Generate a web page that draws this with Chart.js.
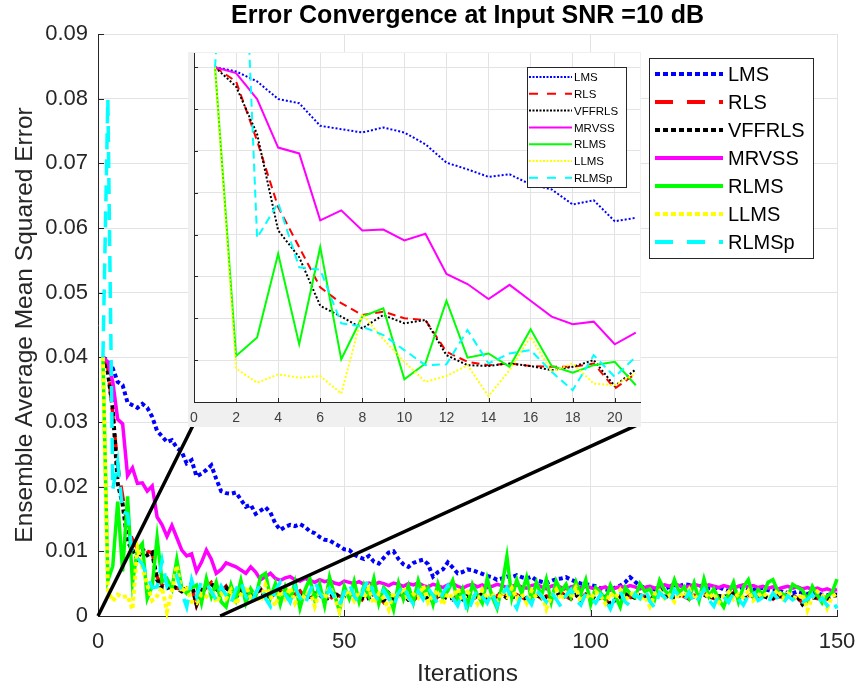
<!DOCTYPE html>
<html>
<head>
<meta charset="utf-8">
<script src="https://cdn.jsdelivr.net/npm/chart.js@4.4.1/dist/chart.umd.min.js"></script>
<style>
  html, body { margin: 0; padding: 0; background: #fff; }
  #wrap { position: relative; width: 859px; height: 689px; }
  #mainChart { position: absolute; left: 0; top: 0; }
  #insetChart { position: absolute; left: 188px; top: 52px; background: #f0f0f0; }
</style>
</head>
<body>
<div id="wrap">
  <canvas id="mainChart" width="859" height="689"></canvas>
  <canvas id="insetChart" width="453" height="375"></canvas>
</div>
<script>
// iterations 1..150
const iterations = Array.from({ length: 150 }, (_, i) => i + 1);

const lmsValues = [
  0.0400, 0.0395, 0.0383, 0.0362, 0.0357, 0.0330, 0.0326, 0.0322, 0.0328, 0.0322,
  0.0308, 0.0286, 0.0278, 0.0269, 0.0272, 0.0260, 0.0254, 0.0236, 0.0241, 0.0216, 0.0220,
  0.0226, 0.0233, 0.0212, 0.0193, 0.0190, 0.0189, 0.0191, 0.0180, 0.0169, 0.0172,
  0.0158, 0.0163, 0.0168, 0.0160, 0.0143, 0.0133, 0.0138, 0.0141, 0.0139, 0.0142,
  0.0138, 0.0131, 0.0128, 0.0122, 0.0118, 0.0117, 0.0112, 0.0108, 0.0103, 0.0102,
  0.0095, 0.0091, 0.0088, 0.0093, 0.0084, 0.0081, 0.0090, 0.0098, 0.0100, 0.0088,
  0.0080, 0.0076, 0.0082, 0.0085, 0.0087, 0.0080, 0.0061, 0.0068, 0.0072, 0.0083,
  0.0075, 0.0066, 0.0068, 0.0072, 0.0071, 0.0068, 0.0065, 0.0062, 0.0060, 0.0056,
  0.0058, 0.0061, 0.0060, 0.0063, 0.0060, 0.0058, 0.0061, 0.0055, 0.0053, 0.0051,
  0.0054, 0.0057, 0.0058, 0.0060, 0.0056, 0.0053, 0.0050, 0.0049, 0.0048, 0.0046,
  0.0043, 0.0041, 0.0040, 0.0044, 0.0047, 0.0052, 0.0060, 0.0053, 0.0047, 0.0043,
  0.0045, 0.0041, 0.0040, 0.0042, 0.0045, 0.0048, 0.0046, 0.0049, 0.0048, 0.0045,
  0.0047, 0.0046, 0.0043, 0.0042, 0.0045, 0.0041, 0.0039, 0.0040, 0.0043, 0.0045,
  0.0042, 0.0040, 0.0044, 0.0043, 0.0040, 0.0038, 0.0041, 0.0037, 0.0036, 0.0035,
  0.0038, 0.0036, 0.0034, 0.0037, 0.0035, 0.0033, 0.0032, 0.0034, 0.0033
];

const rlsValues = [
  0.0400, 0.0383, 0.0312, 0.0233, 0.0185, 0.0137, 0.0118, 0.0104, 0.0108, 0.0100,
  0.0098, 0.0060, 0.0048, 0.0044, 0.0046, 0.0043, 0.0042, 0.0042, 0.0046, 0.0016, 0.0034,
  0.0045, 0.0052, 0.0040, 0.0038, 0.0046, 0.0033, 0.0030, 0.0041, 0.0036, 0.0028,
  0.0034, 0.0042, 0.0031, 0.0027, 0.0036, 0.0040, 0.0032, 0.0025, 0.0034, 0.0039,
  0.0030, 0.0026, 0.0033, 0.0037, 0.0029, 0.0024, 0.0035, 0.0031, 0.0027, 0.0036,
  0.0032, 0.0028, 0.0023, 0.0030, 0.0034, 0.0029, 0.0021, 0.0033, 0.0028, 0.0031,
  0.0036, 0.0027, 0.0024, 0.0031, 0.0035, 0.0028, 0.0022, 0.0030, 0.0034, 0.0029,
  0.0025, 0.0032, 0.0028, 0.0033, 0.0026, 0.0030, 0.0035, 0.0029, 0.0024, 0.0031,
  0.0036, 0.0030, 0.0026, 0.0033, 0.0029, 0.0025, 0.0032, 0.0034, 0.0027, 0.0031,
  0.0028, 0.0033, 0.0037, 0.0030, 0.0026, 0.0031, 0.0027, 0.0034, 0.0029, 0.0024,
  0.0030, 0.0027, 0.0014, 0.0022, 0.0031, 0.0035, 0.0029, 0.0026, 0.0033, 0.0030,
  0.0025, 0.0031, 0.0036, 0.0028, 0.0032, 0.0027, 0.0034, 0.0030, 0.0026, 0.0032,
  0.0029, 0.0035, 0.0031, 0.0027, 0.0033, 0.0028, 0.0032, 0.0036, 0.0029, 0.0025,
  0.0031, 0.0034, 0.0028, 0.0033, 0.0030, 0.0026, 0.0032, 0.0029, 0.0027, 0.0031,
  0.0028, 0.0020, 0.0024, 0.0030, 0.0027, 0.0031, 0.0026, 0.0029, 0.0034
];

const vffrlsValues = [
  0.0400, 0.0377, 0.0320, 0.0205, 0.0173, 0.0115, 0.0102, 0.0088, 0.0104, 0.0094,
  0.0098, 0.0056, 0.0044, 0.0043, 0.0046, 0.0043, 0.0038, 0.0042, 0.0050, 0.0019, 0.0039,
  0.0048, 0.0050, 0.0042, 0.0035, 0.0044, 0.0036, 0.0029, 0.0039, 0.0034, 0.0030,
  0.0037, 0.0040, 0.0029, 0.0031, 0.0038, 0.0036, 0.0028, 0.0027, 0.0035, 0.0037,
  0.0028, 0.0030, 0.0035, 0.0033, 0.0026, 0.0028, 0.0036, 0.0029, 0.0030, 0.0034,
  0.0029, 0.0031, 0.0026, 0.0028, 0.0036, 0.0027, 0.0024, 0.0035, 0.0026, 0.0033,
  0.0034, 0.0025, 0.0027, 0.0033, 0.0032, 0.0026, 0.0025, 0.0032, 0.0031, 0.0027,
  0.0028, 0.0034, 0.0026, 0.0031, 0.0029, 0.0032, 0.0033, 0.0027, 0.0027, 0.0033,
  0.0034, 0.0028, 0.0029, 0.0031, 0.0027, 0.0028, 0.0034, 0.0032, 0.0029, 0.0029,
  0.0030, 0.0031, 0.0035, 0.0028, 0.0029, 0.0033, 0.0025, 0.0032, 0.0031, 0.0026,
  0.0028, 0.0030, 0.0018, 0.0025, 0.0029, 0.0033, 0.0031, 0.0028, 0.0031, 0.0032,
  0.0027, 0.0029, 0.0034, 0.0030, 0.0030, 0.0029, 0.0032, 0.0032, 0.0028, 0.0030,
  0.0031, 0.0033, 0.0029, 0.0029, 0.0031, 0.0030, 0.0030, 0.0034, 0.0031, 0.0027,
  0.0029, 0.0032, 0.0030, 0.0031, 0.0028, 0.0028, 0.0030, 0.0031, 0.0029, 0.0029,
  0.0030, 0.0018, 0.0026, 0.0028, 0.0029, 0.0029, 0.0028, 0.0031, 0.0032
];

const mrvssValues = [
  0.0400, 0.0393, 0.0362, 0.0304, 0.0297, 0.0217, 0.0229, 0.0205, 0.0206, 0.0193,
  0.0201, 0.0153, 0.0141, 0.0123, 0.0140, 0.0121, 0.0102, 0.0093, 0.0096, 0.0069, 0.0083,
  0.0102, 0.0088, 0.0066, 0.0072, 0.0082, 0.0079, 0.0076, 0.0071, 0.0066, 0.0076,
  0.0068, 0.0056, 0.0061, 0.0066, 0.0058, 0.0055, 0.0059, 0.0061, 0.0056, 0.0054,
  0.0058, 0.0055, 0.0052, 0.0056, 0.0053, 0.0055, 0.0051, 0.0049, 0.0054, 0.0052,
  0.0050, 0.0053, 0.0049, 0.0051, 0.0048, 0.0052, 0.0050, 0.0047, 0.0051, 0.0049,
  0.0046, 0.0050, 0.0048, 0.0051, 0.0047, 0.0045, 0.0049, 0.0047, 0.0044, 0.0048,
  0.0050, 0.0046, 0.0043, 0.0047, 0.0049, 0.0045, 0.0048, 0.0044, 0.0046, 0.0049,
  0.0047, 0.0044, 0.0046, 0.0048, 0.0045, 0.0043, 0.0047, 0.0049, 0.0045, 0.0042,
  0.0046, 0.0048, 0.0044, 0.0041, 0.0045, 0.0047, 0.0043, 0.0046, 0.0044, 0.0041,
  0.0043, 0.0045, 0.0040, 0.0043, 0.0046, 0.0044, 0.0047, 0.0045, 0.0042, 0.0044,
  0.0046, 0.0043, 0.0045, 0.0048, 0.0046, 0.0050, 0.0047, 0.0044, 0.0046, 0.0049,
  0.0047, 0.0045, 0.0048, 0.0046, 0.0044, 0.0047, 0.0045, 0.0043, 0.0046, 0.0048,
  0.0045, 0.0047, 0.0044, 0.0046, 0.0043, 0.0045, 0.0042, 0.0044, 0.0046, 0.0043,
  0.0045, 0.0042, 0.0044, 0.0041, 0.0043, 0.0040, 0.0042, 0.0039, 0.0041
];

const rlmsValues = [
  0.0400, 0.0055, 0.0077, 0.0177, 0.0069, 0.0185, 0.0051, 0.0102, 0.0112, 0.0027,
  0.0046, 0.0121, 0.0053, 0.0058, 0.0042, 0.0087, 0.0043, 0.0035, 0.0044, 0.0048, 0.0020,
  0.0058, 0.0030, 0.0052, 0.0022, 0.0014, 0.0048, 0.0025, 0.0055, 0.0020, 0.0042,
  0.0030, 0.0061, 0.0066, 0.0028, 0.0050, 0.0018, 0.0045, 0.0024, 0.0052, 0.0012,
  0.0040, 0.0058, 0.0025, 0.0049, 0.0016, 0.0060, 0.0033, 0.0008, 0.0046, 0.0027,
  0.0054, 0.0022, 0.0048, 0.0030, 0.0058, 0.0019, 0.0044, 0.0035, 0.0010, 0.0051,
  0.0026, 0.0047, 0.0021, 0.0055, 0.0032, 0.0044, 0.0018, 0.0050, 0.0028, 0.0039,
  0.0055, 0.0024, 0.0042, 0.0015, 0.0049, 0.0033, 0.0020, 0.0058, 0.0030, 0.0012,
  0.0046, 0.0092, 0.0028, 0.0056, 0.0035, 0.0060, 0.0025, 0.0052, 0.0031, 0.0057,
  0.0022, 0.0054, 0.0038, 0.0049, 0.0029, 0.0053, 0.0034, 0.0056, 0.0018, 0.0044,
  0.0036, 0.0025, 0.0048, 0.0031, 0.0014, 0.0044, 0.0035, 0.0029, 0.0050, 0.0038,
  0.0042, 0.0026, 0.0055, 0.0040, 0.0032, 0.0056, 0.0036, 0.0045, 0.0028, 0.0051,
  0.0024, 0.0057, 0.0030, 0.0042, 0.0026, 0.0014, 0.0035, 0.0052, 0.0022, 0.0045,
  0.0056, 0.0030, 0.0041, 0.0033, 0.0052, 0.0056, 0.0038, 0.0034, 0.0030, 0.0049,
  0.0044, 0.0040, 0.0025, 0.0046, 0.0033, 0.0020, 0.0031, 0.0036, 0.0057
];

const llmsValues = [
  0.0400, 0.0040, 0.0023, 0.0033, 0.0029, 0.0031, 0.0010, 0.0105, 0.0075, 0.0048,
  0.0024, 0.0031, 0.0044, 0.0007, 0.0038, 0.0078, 0.0036, 0.0046, 0.0022, 0.0020, 0.0034,
  0.0030, 0.0042, 0.0021, 0.0035, 0.0027, 0.0040, 0.0018, 0.0033, 0.0046, 0.0029,
  0.0036, 0.0022, 0.0048, 0.0031, 0.0016, 0.0039, 0.0027, 0.0044, 0.0020, 0.0034,
  0.0028, 0.0041, 0.0015, 0.0037, 0.0026, 0.0045, 0.0030, 0.0008, 0.0033, 0.0040,
  0.0024, 0.0038, 0.0029, 0.0043, 0.0019, 0.0035, 0.0027, 0.0010, 0.0036, 0.0031,
  0.0044, 0.0023, 0.0034, 0.0028, 0.0047, 0.0021, 0.0032, 0.0039, 0.0017, 0.0035,
  0.0029, 0.0042, 0.0024, 0.0037, 0.0031, 0.0019, 0.0040, 0.0026, 0.0035, 0.0022,
  0.0038, 0.0030, 0.0043, 0.0027, 0.0034, 0.0020, 0.0039, 0.0028, 0.0036, 0.0011,
  0.0030, 0.0041, 0.0025, 0.0036, 0.0029, 0.0044, 0.0022, 0.0033, 0.0027, 0.0038,
  0.0031, 0.0019, 0.0035, 0.0028, 0.0040, 0.0024, 0.0033, 0.0037, 0.0026, 0.0030,
  0.0015, 0.0034, 0.0039, 0.0027, 0.0032, 0.0022, 0.0036, 0.0029, 0.0041, 0.0025,
  0.0033, 0.0038, 0.0028, 0.0035, 0.0021, 0.0030, 0.0037, 0.0026, 0.0034, 0.0029,
  0.0039, 0.0024, 0.0031, 0.0036, 0.0028, 0.0033, 0.0040, 0.0027, 0.0035, 0.0030,
  0.0026, 0.0034, 0.0009, 0.0029, 0.0038, 0.0032, 0.0012, 0.0030, 0.0035
];

const rlmspValues = [
  0.0400, 0.0800, 0.0196, 0.0238, 0.0161, 0.0158, 0.0094, 0.0090, 0.0080, 0.0062,
  0.0044, 0.0045, 0.0086, 0.0046, 0.0058, 0.0062, 0.0036, 0.0014, 0.0056, 0.0030, 0.0054,
  0.0050, 0.0038, 0.0025, 0.0046, 0.0032, 0.0020, 0.0041, 0.0054, 0.0030, 0.0018,
  0.0036, 0.0048, 0.0027, 0.0015, 0.0040, 0.0052, 0.0033, 0.0022, 0.0045, 0.0028,
  0.0017, 0.0038, 0.0055, 0.0035, 0.0024, 0.0042, 0.0029, 0.0016, 0.0037, 0.0050,
  0.0031, 0.0020, 0.0044, 0.0057, 0.0034, 0.0023, 0.0040, 0.0027, 0.0015, 0.0036,
  0.0048, 0.0030, 0.0019, 0.0039, 0.0026, 0.0043, 0.0032, 0.0018, 0.0035, 0.0047,
  0.0028, 0.0016, 0.0037, 0.0005, 0.0024, 0.0041, 0.0030, 0.0020, 0.0038, 0.0015,
  0.0033, 0.0044, 0.0025, 0.0012, 0.0036, 0.0029, 0.0018, 0.0040, 0.0031, 0.0022,
  0.0037, 0.0026, 0.0014, 0.0032, 0.0041, 0.0024, 0.0017, 0.0035, 0.0028, 0.0020,
  0.0033, 0.0025, 0.0011, 0.0030, 0.0038, 0.0022, 0.0016, 0.0034, 0.0027, 0.0042,
  0.0023, 0.0013, 0.0036, 0.0029, 0.0019, 0.0040, 0.0031, 0.0024, 0.0037, 0.0018,
  0.0028, 0.0041, 0.0025, 0.0015, 0.0034, 0.0030, 0.0021, 0.0036, 0.0026, 0.0017,
  0.0032, 0.0039, 0.0024, 0.0029, 0.0020, 0.0035, 0.0027, 0.0018, 0.0031, 0.0025,
  0.0030, 0.0022, 0.0026, 0.0033, 0.0019, 0.0028, 0.0016, 0.0024, 0.0012
];

const seriesNames = ['LMS', 'RLS', 'VFFRLS', 'MRVSS', 'RLMS', 'LLMS', 'RLMSp'];
const seriesValues = [lmsValues, rlsValues, vffrlsValues, mrvssValues, rlmsValues, llmsValues, rlmspValues];
const seriesColors = ['#0000ff', '#ff0000', '#000000', '#ff00ff', '#00ff00', '#ffff00', '#00ffff'];
const seriesKinds = ['dot', 'dash', 'dot', 'solid', 'solid', 'dot', 'dash'];

const mainYTicks = [0, 0.01, 0.02, 0.03, 0.04, 0.05, 0.06, 0.07, 0.08, 0.09];
const mainXTicks = [0, 50, 100, 150];
const insetXTicks = [0, 2, 4, 6, 8, 10, 12, 14, 16, 18, 20];
const insetYTicks = [0, 0.005, 0.01, 0.015, 0.02, 0.025, 0.03, 0.035, 0.04];
const insetCount = 21;

// zoom connector lines: from main plot (iteration, mse) to inset corners
const connectorFrom = [[0, 0], [24.8, 0]];
const connectorTo = [[19.3, 0.0295], [109.6, 0.0296]];

const FONT = '"Liberation Sans", Arial, Helvetica, sans-serif';
const AXIS = '#262626';
const GRID = '#e3e3e3';

const mainDash = { dot: [4, 3], dash: [16, 10], solid: [] };
const insetDash = { dot: [2, 2], dash: [8, 5], solid: [] };

function makeDatasets(count, widths, dashes, clip) {
  return seriesNames.map((name, i) => ({
    label: name,
    data: seriesValues[i].slice(0, count).map((v, j) => ({ x: iterations[j], y: v })),
    borderColor: seriesColors[i],
    borderWidth: seriesKinds[i] === 'dot' ? widths.dot : widths.line,
    borderDash: dashes[seriesKinds[i]],
    borderCapStyle: 'butt',
    pointRadius: 0,
    tension: 0,
    fill: false,
    clip: clip,
    order: seriesNames.length - i
  }));
}

function drawLegend(ctx, box, rowY0, rowStep, lineX0, lineX1, textX, font, width, dashes) {
  ctx.save();
  ctx.fillStyle = '#fff';
  ctx.fillRect(box[0], box[1], box[2] - box[0], box[3] - box[1]);
  ctx.strokeStyle = AXIS;
  ctx.lineWidth = 1;
  ctx.setLineDash([]);
  ctx.strokeRect(box[0] + 0.5, box[1] + 0.5, box[2] - box[0], box[3] - box[1]);
  ctx.font = font;
  ctx.textBaseline = 'middle';
  ctx.textAlign = 'left';
  seriesNames.forEach((name, i) => {
    const y = rowY0 + i * rowStep;
    ctx.strokeStyle = seriesColors[i];
    ctx.lineWidth = width;
    ctx.lineCap = 'butt';
    ctx.setLineDash(dashes[seriesKinds[i]]);
    ctx.beginPath();
    ctx.moveTo(lineX0, y);
    ctx.lineTo(lineX1, y);
    ctx.stroke();
    ctx.setLineDash([]);
    ctx.fillStyle = '#000';
    ctx.fillText(name, textX, y + 1);
  });
  ctx.restore();
}

const innerTicks = {
  id: 'innerTicks',
  beforeDatasetsDraw(chart, args, opts) {
    const { ctx, chartArea: a, scales: { x, y } } = chart;
    ctx.save();
    ctx.strokeStyle = AXIS;
    ctx.lineWidth = 1;
    ctx.beginPath();
    y.ticks.forEach(t => {
      const py = Math.round(y.getPixelForValue(t.value)) + 0.5;
      ctx.moveTo(a.left, py);
      ctx.lineTo(a.left + opts.len, py);
    });
    x.ticks.forEach(t => {
      const px = Math.round(x.getPixelForValue(t.value)) + 0.5;
      ctx.moveTo(px, a.bottom);
      ctx.lineTo(px, a.bottom - opts.len);
    });
    ctx.stroke();
    ctx.restore();
  }
};

const mainDecor = {
  id: 'mainDecor',
  afterDatasetsDraw(chart) {
    const { ctx, scales: { x, y } } = chart;
    ctx.save();
    ctx.strokeStyle = '#000';
    ctx.lineWidth = 3.5;
    ctx.setLineDash([]);
    connectorFrom.forEach((p, i) => {
      const q = connectorTo[i];
      ctx.beginPath();
      ctx.moveTo(x.getPixelForValue(p[0]), y.getPixelForValue(p[1]));
      ctx.lineTo(x.getPixelForValue(q[0]), y.getPixelForValue(q[1]));
      ctx.stroke();
    });
    ctx.restore();
  },
  afterDraw(chart) {
    const { ctx, chartArea: a } = chart;
    const cx = (a.left + a.right) / 2;
    ctx.save();
    ctx.fillStyle = '#000';
    ctx.font = 'bold 25px ' + FONT;
    ctx.textAlign = 'center';
    ctx.textBaseline = 'alphabetic';
    ctx.fillText('Error Convergence at Input SNR =10 dB', cx, 23);
    ctx.fillStyle = AXIS;
    ctx.font = '24.5px ' + FONT;
    ctx.fillText('Iterations', cx, 681);
    ctx.translate(32, (a.top + a.bottom) / 2);
    ctx.rotate(-Math.PI / 2);
    ctx.fillText('Ensemble Average Mean Squared Error', 0, 0);
    ctx.restore();
    drawLegend(ctx, [649, 58, 813, 258], 74, 28, 655, 723, 728, '20px ' + FONT, 4, { dot: [5, 3], dash: [18, 14], solid: [] });
  }
};

const insetDecor = {
  id: 'insetDecor',
  beforeDraw(chart) {
    const { ctx, chartArea: a } = chart;
    ctx.save();
    ctx.fillStyle = '#fff';
    ctx.fillRect(a.left, a.top, a.right - a.left, a.bottom - a.top);
    ctx.restore();
  },
  afterDraw(chart) {
    drawLegend(chart.ctx, [339, 15, 438, 135], 25, 16.8, 341, 384, 386, '11.5px ' + FONT, 2, { dot: [2, 1.5], dash: [9, 9], solid: [] });
  }
};

new Chart(document.getElementById('mainChart'), {
  type: 'line',
  data: { datasets: makeDatasets(150, { line: 3.5, dot: 4 }, mainDash, 3) },
  options: {
    responsive: false,
    animation: false,
    devicePixelRatio: 1,
    events: [],
    layout: { padding: { top: 34, right: 22, left: 0, bottom: 0 } },
    plugins: { legend: { display: false }, tooltip: { enabled: false }, innerTicks: { len: 6 } },
    scales: {
      x: {
        type: 'linear', min: 0, max: 150,
        afterBuildTicks: s => { s.ticks = mainXTicks.map(v => ({ value: v })); },
        afterFit: s => { s.height = 73; s.paddingLeft = 0; s.paddingRight = 0; },
        grid: { color: GRID, drawTicks: false },
        border: { color: AXIS, width: 1 },
        ticks: { padding: 13, color: AXIS, font: { family: FONT, size: 22 }, maxRotation: 0 }
      },
      y: {
        type: 'linear', min: 0, max: 0.09,
        afterBuildTicks: s => { s.ticks = mainYTicks.map(v => ({ value: v })); },
        afterFit: s => { s.width = 98; s.paddingTop = 0; s.paddingBottom = 0; },
        grid: { color: GRID, drawTicks: false },
        border: { color: AXIS, width: 1 },
        ticks: {
          padding: 10, color: AXIS, font: { family: FONT, size: 22 },
          callback: v => (v === 0 ? '0' : v.toFixed(2))
        }
      }
    }
  },
  plugins: [innerTicks, mainDecor]
});

new Chart(document.getElementById('insetChart'), {
  type: 'line',
  data: { datasets: makeDatasets(insetCount, { line: 2, dot: 2 }, insetDash, 0) },
  options: {
    responsive: false,
    animation: false,
    devicePixelRatio: 1,
    events: [],
    layout: { padding: { top: 1, right: 1, left: 0, bottom: 0 } },
    plugins: { legend: { display: false }, tooltip: { enabled: false }, innerTicks: { len: 4 } },
    scales: {
      x: {
        type: 'linear', min: 0, max: 21.2,
        afterBuildTicks: s => { s.ticks = insetXTicks.map(v => ({ value: v })); },
        afterFit: s => { s.height = 25; s.paddingLeft = 0; s.paddingRight = 0; },
        grid: { color: GRID, drawTicks: false },
        border: { color: AXIS, width: 1 },
        ticks: { padding: 8, color: '#404040', font: { family: FONT, size: 14 }, maxRotation: 0, autoSkip: false }
      },
      y: {
        type: 'linear', min: 0, max: 0.0417,
        afterBuildTicks: s => { s.ticks = insetYTicks.map(v => ({ value: v })); },
        afterFit: s => { s.width = 6; s.paddingTop = 0; s.paddingBottom = 0; },
        grid: { color: GRID, drawTicks: false },
        border: { color: AXIS, width: 1 },
        ticks: { display: false }
      }
    }
  },
  plugins: [innerTicks, insetDecor]
});
</script>
</body>
</html>
